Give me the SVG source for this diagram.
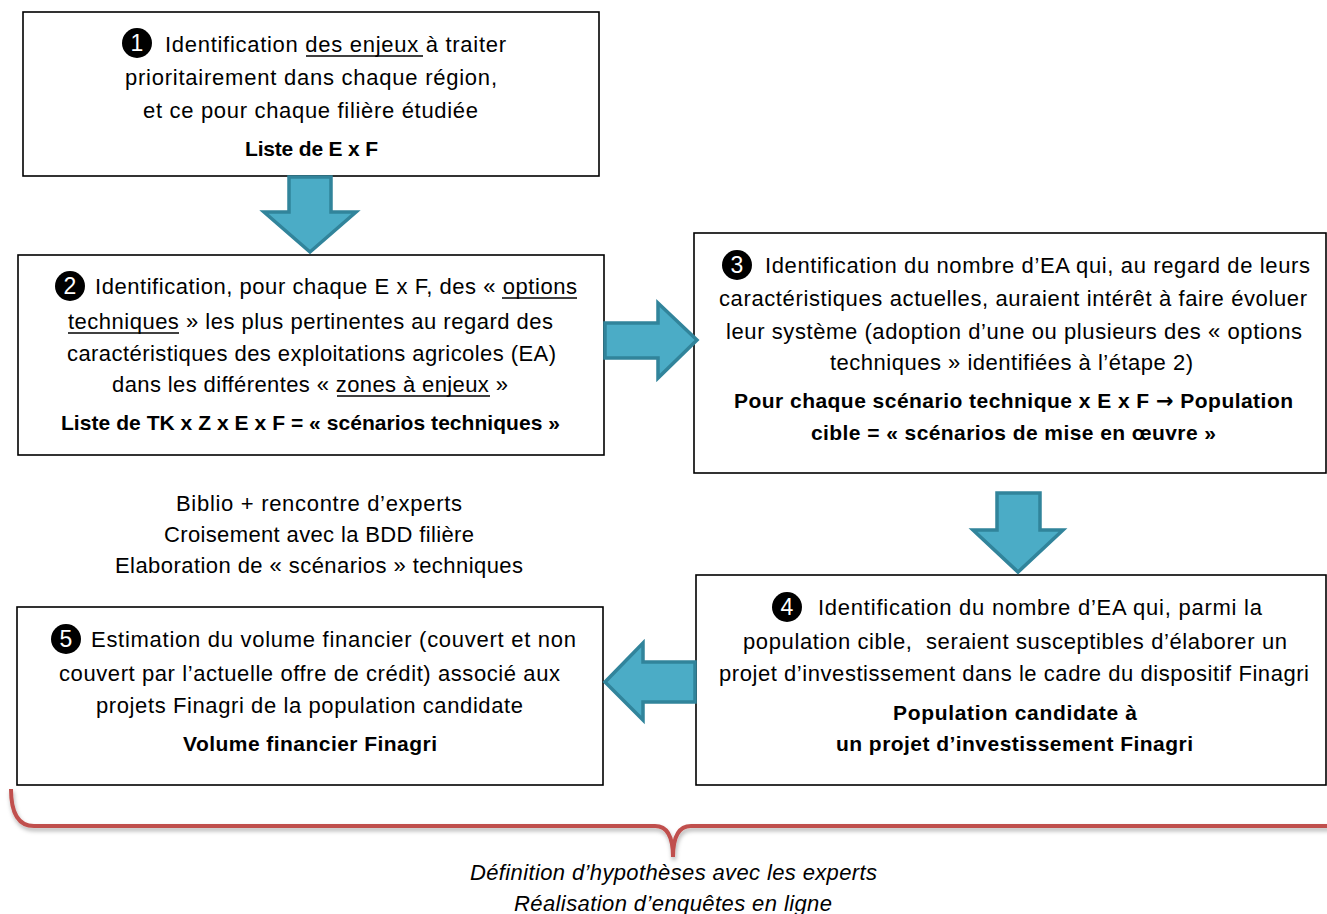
<svg xmlns="http://www.w3.org/2000/svg" width="1327" height="914" viewBox="0 0 1327 914">
<style>
.box{fill:#fff;stroke:#000;stroke-width:1.6}
.t{font-family:"Liberation Sans",Arial,sans-serif;font-size:22px;fill:#000}
.b{font-weight:bold;font-size:21px}
.i{font-style:italic}
.ul{stroke:#000;stroke-width:1.4}
.num{fill:#000}
.nt{font-family:"Liberation Sans",Arial,sans-serif;font-size:23px;fill:#fff;text-anchor:middle}
.ar{font-family:"DejaVu Sans",sans-serif;font-weight:bold}
.arr{fill:#4BACC6;stroke:#31849B;stroke-width:3.5;stroke-linejoin:miter}
.brace{fill:none;stroke:#C0504D;stroke-width:4}
</style>
<defs>
<filter id="sh" x="-5%" y="-20%" width="110%" height="160%">
<feDropShadow dx="1" dy="3" stdDeviation="2" flood-color="#000" flood-opacity="0.3"/>
</filter>
</defs>

<g id="node1">
<rect class="box" x="23" y="12" width="576" height="164"/>
<circle class="num" cx="137" cy="43" r="15"/>
<text class="nt" x="137" y="51">1</text>
<text class="t" x="165" y="52" textLength="341">Identification des enjeux à traiter</text>
<line class="ul" x1="306" y1="56" x2="423" y2="56"/>
<text class="t" x="125" y="85" textLength="372">prioritairement dans chaque région,</text>
<text class="t" x="143" y="118" textLength="335">et ce pour chaque filière étudiée</text>
<text class="t b" x="245" y="156" textLength="133">Liste de E x F</text>
</g>

<g id="node2">
<rect class="box" x="18" y="255" width="586" height="200"/>
<circle class="num" cx="70" cy="286" r="15"/>
<text class="nt" x="70" y="294">2</text>
<text class="t" x="95" y="294" textLength="482">Identification, pour chaque E x F, des « options</text>
<line class="ul" x1="502" y1="298" x2="577" y2="298"/>
<text class="t" x="68" y="329" textLength="485">techniques » les plus pertinentes au regard des</text>
<line class="ul" x1="68" y1="333" x2="179" y2="333"/>
<text class="t" x="67" y="361" textLength="489">caractéristiques des exploitations agricoles (EA)</text>
<text class="t" x="112" y="392" textLength="396">dans les différentes « zones à enjeux »</text>
<line class="ul" x1="337" y1="396" x2="490" y2="396"/>
<text class="t b" x="61" y="430" textLength="499">Liste de TK x Z x E x F = « scénarios techniques »</text>
</g>

<g id="node3">
<rect class="box" x="694" y="233" width="632" height="240"/>
<circle class="num" cx="737" cy="265" r="15"/>
<text class="nt" x="737" y="273">3</text>
<text class="t" x="765" y="273" textLength="545">Identification du nombre d’EA qui, au regard de leurs</text>
<text class="t" x="719" y="306" textLength="588">caractéristiques actuelles, auraient intérêt à faire évoluer</text>
<text class="t" x="726" y="339" textLength="576">leur système (adoption d’une ou plusieurs des « options</text>
<text class="t" x="830" y="370" textLength="363">techniques » identifiées à l’étape 2)</text>
<text class="t b" x="734" y="408" textLength="559">Pour chaque scénario technique x E x F <tspan class="ar">→</tspan> Population</text>
<text class="t b" x="811" y="440" textLength="405">cible = « scénarios de mise en œuvre »</text>
</g>

<g id="note1">
<text class="t" x="176" y="511" textLength="286">Biblio + rencontre d’experts</text>
<text class="t" x="164" y="542" textLength="310">Croisement avec la BDD filière</text>
<text class="t" x="115" y="573" textLength="408">Elaboration de « scénarios » techniques</text>
</g>

<g id="node4">
<rect class="box" x="696" y="575" width="630" height="210"/>
<circle class="num" cx="787" cy="607" r="15"/>
<text class="nt" x="787" y="615">4</text>
<text class="t" x="818" y="615" textLength="444">Identification du nombre d’EA qui, parmi la</text>
<text class="t" x="743" y="649" textLength="544" xml:space="preserve">population cible,  seraient susceptibles d’élaborer un</text>
<text class="t" x="719" y="681" textLength="590">projet d’investissement dans le cadre du dispositif Finagri</text>
<text class="t b" x="893" y="720" textLength="244">Population candidate à</text>
<text class="t b" x="836" y="751" textLength="357">un projet d’investissement Finagri</text>
</g>

<g id="node5">
<rect class="box" x="17" y="607" width="586" height="178"/>
<circle class="num" cx="66" cy="639" r="15"/>
<text class="nt" x="66" y="647">5</text>
<text class="t" x="91" y="647" textLength="485">Estimation du volume financier (couvert et non</text>
<text class="t" x="59" y="681" textLength="501">couvert par l’actuelle offre de crédit) associé aux</text>
<text class="t" x="96" y="713" textLength="427">projets Finagri de la population candidate</text>
<text class="t b" x="183" y="751" textLength="254">Volume financier Finagri</text>
</g>

<g id="connectors">
<polygon class="arr" points="289,177 331,177 331,212 356,212 310,252 264,212 289,212"/>
<polygon class="arr" points="605,323 658,323 658,303 697,340 658,378 658,358 605,358"/>
<polygon class="arr" points="997,493 1040,493 1040,530 1063,530 1018,572 973,530 997,530"/>
<polygon class="arr" points="695,662 643,662 643,643 605,682 643,720 643,702 695,702"/>
</g>

<g id="brace">
<path class="brace" filter="url(#sh)" d="M 11 789 Q 11 826 34 826 L 655 826 Q 673 826 673 857 Q 673 826 691 826 L 1330 826"/>
<text class="t i" x="470" y="880" textLength="407">Définition d’hypothèses avec les experts</text>
<text class="t i" x="514" y="911" textLength="318">Réalisation d’enquêtes en ligne</text>
</g>
</svg>
